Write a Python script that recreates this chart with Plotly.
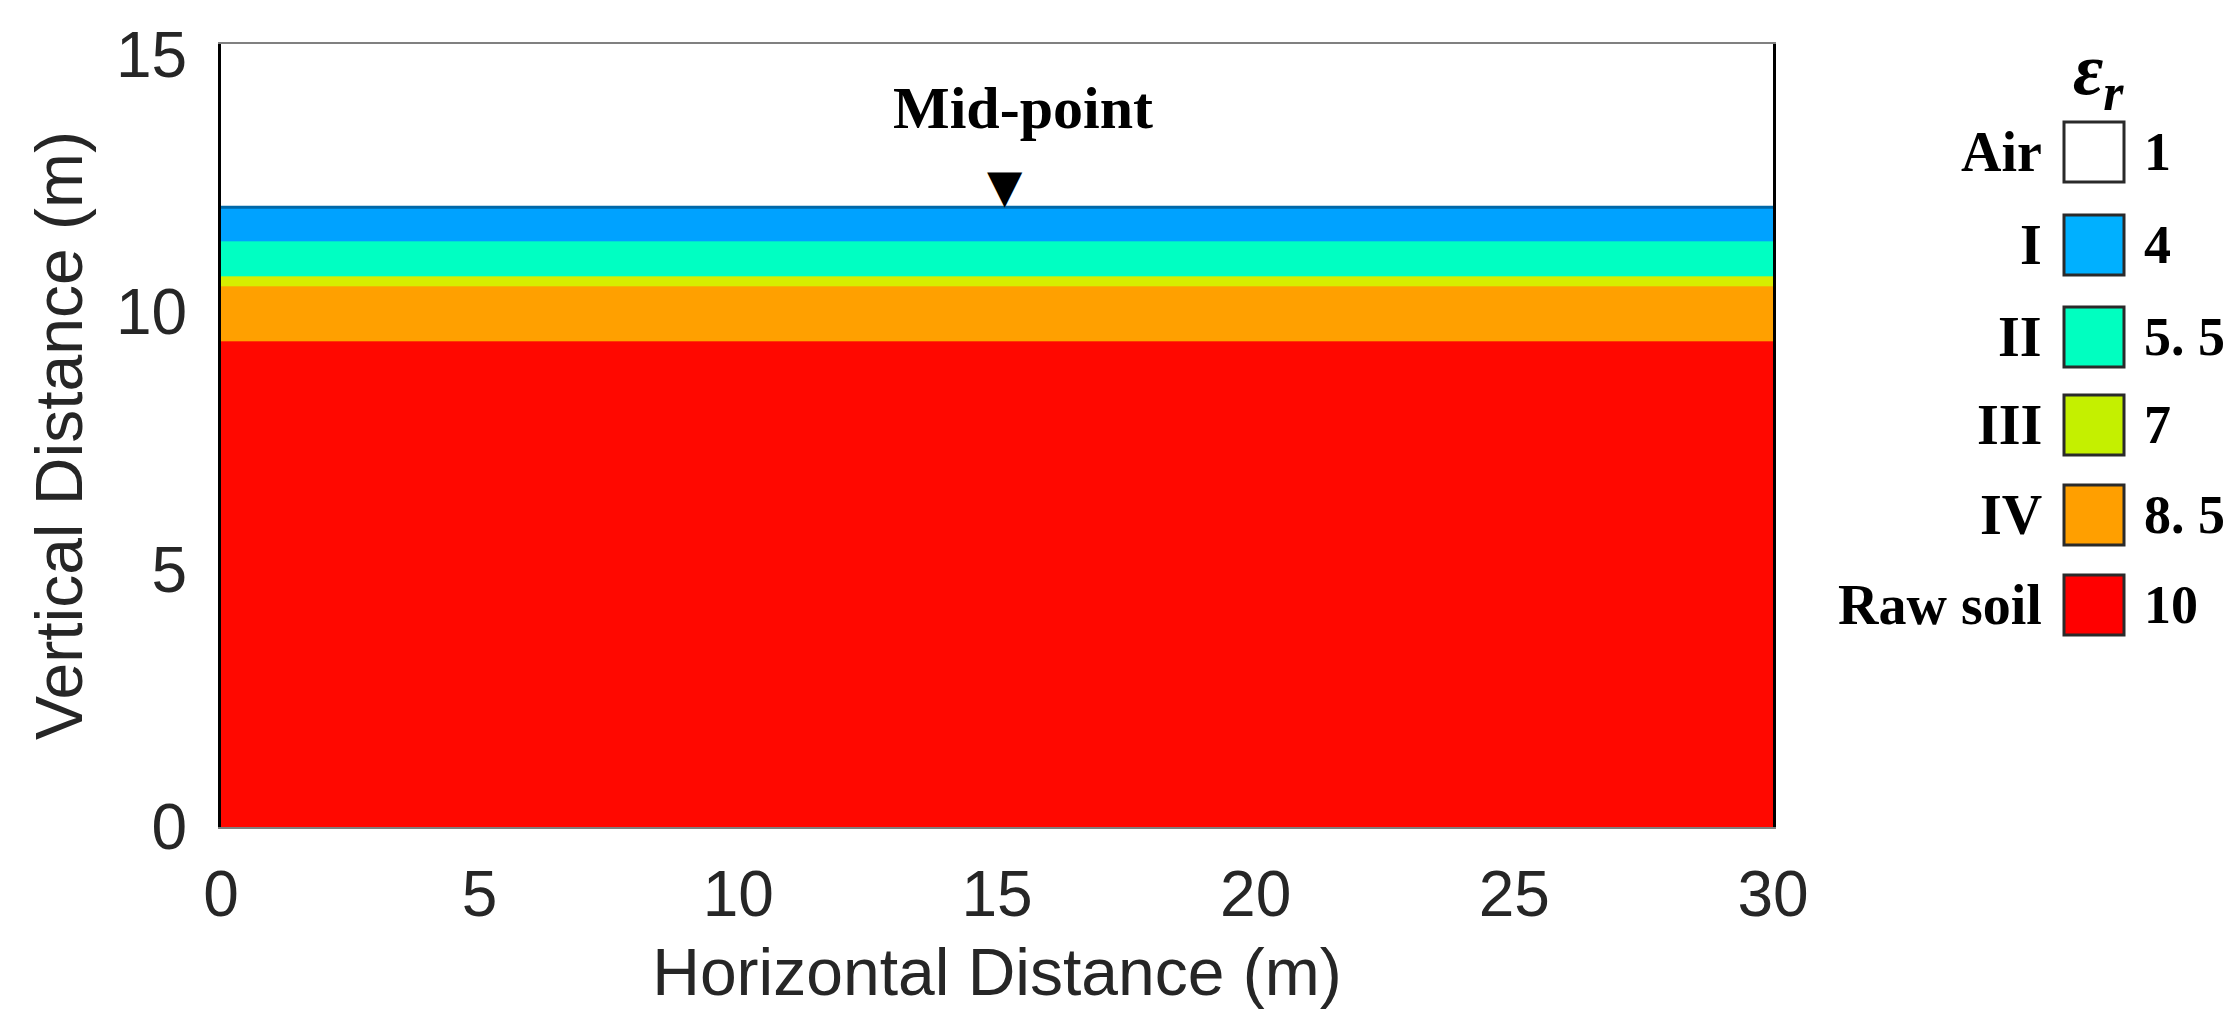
import plotly.graph_objects as go

# ---- data ----
layer_names = ["Air", "I", "II", "III", "IV", "Raw soil"]
layer_eps = ["1", "4", "5. 5", "7", "8. 5", "10"]
layer_colors = ["#FFFFFF", "#00A2FF", "#00FFC2", "#D6EE00", "#FFA000", "#FF0800"]
legend_box_colors = ["#FFFFFF", "#00B0FF", "#00FFC0", "#C4F000", "#FF9F00", "#FF0000"]
# layer boundaries (m), from bottom: raw soil, IV, III, II, I
y_edges = [0.0, 9.43, 10.5, 10.7, 11.37, 12.03]
z_layers = [[5], [4], [3], [2], [1]]   # index into layer_colors
x_edges = [0.0, 30.0]
x_ticks = [0, 5, 10, 15, 20, 25, 30]
y_ticks = [0, 5, 10, 15]
mid_x = 15.15
mid_label_x = 15.5
mid_label_y = 13.95

# ---- geometry (pixels) ----
W, H = 2234, 1035
L, R, T, B = 213, 1765, 36, 819
pw, ph = R - L, B - T

def px(xp):
    return (xp - L) / pw

def py(yp):
    return (B - yp) / ph

n = len(layer_colors)
colorscale = []
for i, c in enumerate(layer_colors):
    colorscale.append([i / n, c])
    colorscale.append([(i + 1) / n, c])

fig = go.Figure()
fig.add_trace(go.Heatmap(
    x=x_edges, y=y_edges, z=z_layers,
    zmin=0, zmax=n, colorscale=colorscale,
    showscale=False, hoverinfo="skip",
))
# thin dark edge at the ground surface (top of layer I)
fig.add_trace(go.Scatter(
    x=x_edges, y=[y_edges[-1], y_edges[-1]], mode="lines",
    line=dict(color="#0068A8", width=3), hoverinfo="skip",
))

tick_font = dict(family="Liberation Sans, Arial", size=64, color="#262626")
title_font = dict(family="Liberation Sans, Arial", size=66, color="#262626")
serif = "Liberation Serif, Times New Roman"

fig.update_layout(
    width=W, height=H,
    margin=dict(l=L, r=W - R, t=T, b=H - B),
    paper_bgcolor="white", plot_bgcolor="white",
    showlegend=False,
    xaxis=dict(range=[0, 30], tickvals=x_ticks, ticks="", showgrid=False,
               zeroline=False, showline=True, linecolor="#808080", linewidth=2,
               mirror=True, layer="below traces", tickfont=tick_font,
               ticklabelstandoff=10,
               title=dict(text="Horizontal Distance (m)", font=title_font, standoff=20)),
    yaxis=dict(range=[0, 15.2], tickvals=y_ticks, ticks="", showgrid=False,
               zeroline=False, showline=True, linecolor="black", linewidth=3,
               mirror=True, layer="above traces", tickfont=tick_font,
               ticklabelstandoff=18,
               title=dict(text="Vertical Distance (m)", font=title_font, standoff=12)),
)

# Mid-point marker and label
fig.add_annotation(x=mid_label_x, y=mid_label_y, xref="x", yref="y", text="<b>Mid-point</b>",
                   showarrow=False, font=dict(family=serif, size=60, color="black"),
                   xanchor="center", yanchor="middle")
fig.add_annotation(x=mid_x, y=y_edges[-1], xref="x", yref="y", text="▼",
                   showarrow=False, font=dict(family="DejaVu Sans", size=46, color="black"),
                   xanchor="center", yanchor="bottom", yshift=-8)

# legend
row_y = [144, 237, 329, 417, 507, 597]
box_w = 60
box_x0 = 2056
lab_font = dict(family=serif, size=56, color="black")
val_font = dict(family=serif, size=54, color="black")
fig.add_annotation(x=px(2090), y=py(66), xref="paper", yref="paper",
                   text="<b><i>ε</i></b><sub><b><i>r</i></b></sub>", showarrow=False,
                   font=dict(family=serif, size=74, color="black"),
                   xanchor="center", yanchor="middle")
for name, val, col, yc in zip(layer_names, layer_eps, legend_box_colors, row_y):
    fig.add_shape(type="rect", xref="paper", yref="paper",
                  x0=px(box_x0), x1=px(box_x0 + box_w),
                  y0=py(yc + box_w / 2), y1=py(yc - box_w / 2),
                  fillcolor=col, line=dict(color="#2a2a2a", width=3))
    fig.add_annotation(x=px(2036), y=py(yc), xref="paper", yref="paper",
                       text=f"<b>{name}</b>", showarrow=False, font=lab_font,
                       xanchor="right", yanchor="middle")
    fig.add_annotation(x=px(2134), y=py(yc), xref="paper", yref="paper",
                       text=f"<b>{val}</b>", showarrow=False, font=val_font,
                       xanchor="left", yanchor="middle")

fig.write_html("out.html")
